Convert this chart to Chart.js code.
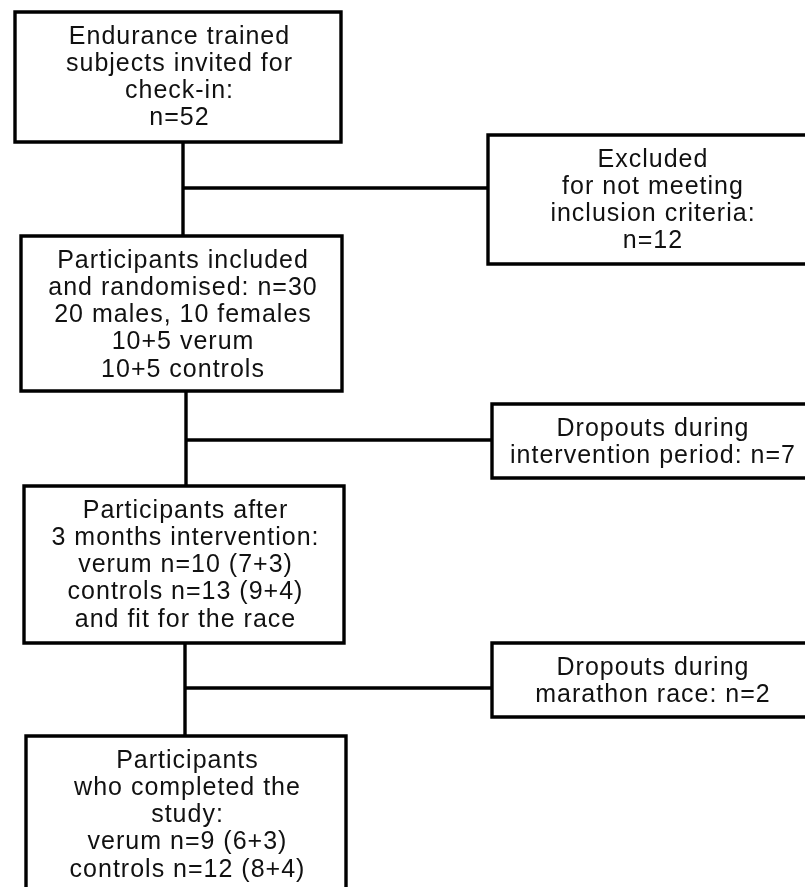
<!DOCTYPE html>
<html>
<head>
<meta charset="utf-8">
<script src="https://cdn.jsdelivr.net/npm/chart.js@4/dist/chart.umd.min.js"></script>
<style>
  html, body { margin: 0; padding: 0; background: #ffffff; }
  #wrap { width: 805px; height: 887px; }
</style>
</head>
<body>
<div id="wrap"><canvas id="c" width="805" height="887"></canvas></div>
<script>
// ---- content (texts of the flowchart boxes) ----
const mainTexts = [
  ["Endurance trained", "subjects invited for", "check-in:", "n=52"],
  ["Participants included", "and randomised: n=30", "20 males, 10 females", "10+5 verum", "10+5 controls"],
  ["Participants after", "3 months intervention:", "verum n=10 (7+3)", "controls n=13 (9+4)", "and fit for the race"],
  ["Participants", "who completed the", "study:", "verum n=9 (6+3)", "controls n=12 (8+4)"]
];
const sideTexts = [
  ["Excluded", "for not meeting", "inclusion criteria:", "n=12"],
  ["Dropouts during", "intervention period: n=7"],
  ["Dropouts during", "marathon race: n=2"]
];

// ---- layout (box edges in chart units: left, top, right, bottom) ----
const mainBoxes = [
  [15, 12, 341, 142],
  [21, 236, 342, 391],
  [24, 486, 344, 643],
  [26, 736, 346, 905]
];
const sideBoxes = [
  [488, 135, 820, 264],
  [492, 404, 820, 478],
  [492, 643, 820, 717]
];
// vertical trunk x positions and branch y positions between main boxes
const trunkX = [183, 186, 185];
const branchY = [188, 440, 688];

const FONT = '25px "Liberation Sans", Arial, sans-serif';
const LETTER_SP = '1px';
const LINE_H = 27.3;
const FIRST_BASE = 31.5;

function rectPts(b) {
  const [l, t, r, bt] = b;
  return [{x:l,y:t},{x:r,y:t},{x:r,y:bt},{x:l,y:bt},{x:l,y:t},{x:r,y:t}];
}

const datasets = [];
const lineStyle = { showLine: true, borderColor: '#000', borderWidth: 3.4, pointRadius: 0,
                    borderJoinStyle: 'miter', borderCapStyle: 'butt', tension: 0, fill: false };
mainBoxes.concat(sideBoxes).forEach(b => datasets.push(Object.assign({ data: rectPts(b) }, lineStyle)));
for (let i = 0; i < 3; i++) {
  datasets.push(Object.assign({ data: [{x: trunkX[i], y: mainBoxes[i][3]}, {x: trunkX[i], y: mainBoxes[i+1][1]}] }, lineStyle));
  datasets.push(Object.assign({ data: [{x: trunkX[i], y: branchY[i]}, {x: sideBoxes[i][0], y: branchY[i]}] }, lineStyle));
}

const textPlugin = {
  id: 'boxText',
  afterDatasetsDraw(chart) {
    const ctx = chart.ctx;
    const xs = chart.scales.x, ys = chart.scales.y;
    ctx.save();
    ctx.font = FONT;
    if ('letterSpacing' in ctx) ctx.letterSpacing = LETTER_SP;
    ctx.fillStyle = '#111';
    ctx.textAlign = 'center';
    ctx.textBaseline = 'alphabetic';
    const draw = (boxes, texts, cxOverride) => {
      boxes.forEach((b, i) => {
        const cx = xs.getPixelForValue(cxOverride != null ? cxOverride : (b[0] + b[2]) / 2 + 1.5);
        texts[i].forEach((line, j) => {
          const y = ys.getPixelForValue(b[1] + FIRST_BASE + j * LINE_H);
          ctx.fillText(line, cx, y);
        });
      });
    };
    draw(mainBoxes, mainTexts, null);
    draw(sideBoxes, sideTexts, 653);
    ctx.restore();
  }
};

new Chart(document.getElementById('c'), {
  type: 'scatter',
  data: { datasets },
  options: {
    responsive: false,
    animation: false,
    layout: { padding: 0 },
    plugins: { legend: { display: false }, tooltip: { enabled: false } },
    scales: {
      x: { type: 'linear', min: 0, max: 805, display: false },
      y: { type: 'linear', min: 0, max: 887, reverse: true, display: false }
    }
  },
  plugins: [textPlugin]
});
</script>
</body>
</html>
